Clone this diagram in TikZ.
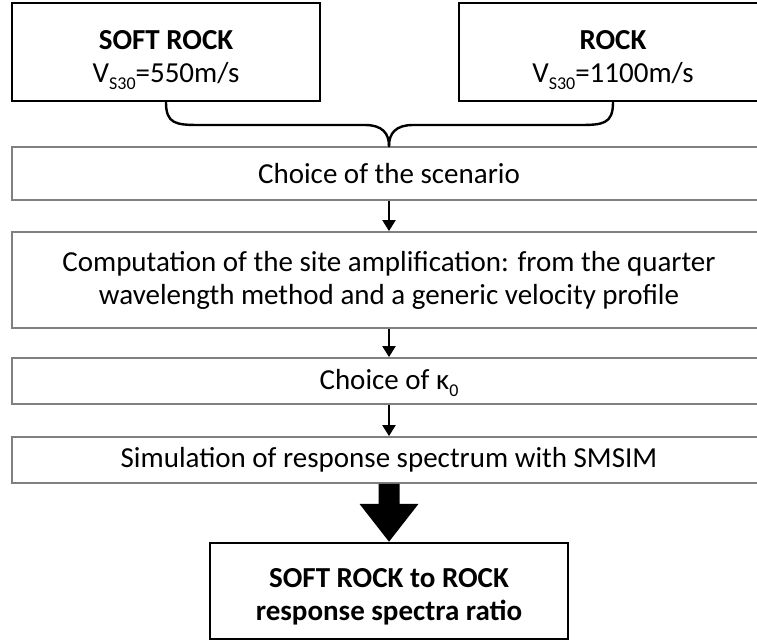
\documentclass[tikz,border=0pt]{standalone}
\usepackage{fontspec}
\setmainfont{Carlito}
\usetikzlibrary{arrows.meta,calc}
\definecolor{boxgray}{RGB}{128,128,128}
\newcommand\subtxt[1]{\raisebox{-7pt}{\fontsize{18}{18}\selectfont #1}}
\begin{document}
\begin{tikzpicture}[x=1pt,y=-1pt,
  every node/.style={font=\fontsize{29}{33}\selectfont, align=center, inner sep=0pt},
  topbox/.style={draw=black, line width=2.6pt, minimum width=308pt, minimum height=98pt},
  flowbox/.style={draw=boxgray, line width=1.8pt, minimum width=754pt},
  resultbox/.style={draw=black, line width=2.6pt, minimum width=358pt, minimum height=96pt},
  flowarrow/.style={line width=2pt, -{Triangle[width=13pt,length=11pt]}},
  bracepath/.style={line width=2.4pt, line cap=round},
  bigarrow/.style={fill=black}]
\path[use as bounding box, clip] (0,0) rectangle (757,643);

\node[topbox] (soft) at (166,52) {\rule{0pt}{36pt}\textbf{SOFT ROCK}\\V\subtxt{S30}=550m/s};
\node[topbox] (rock) at (613,52) {\rule{0pt}{36pt}\textbf{ROCK}\\V\subtxt{S30}=1100m/s};

\node[flowbox, minimum height=53pt] (scen) at (389,173.5) {Choice of the scenario};
\node[flowbox, minimum height=96pt] (comp) at (389,280) {Computation of the site amplification: from the quarter\\wavelength method and a generic velocity profile};
\node[flowbox, minimum height=46pt] (kappa) at (389,381) {\rule{0pt}{24pt}Choice of κ\subtxt{0}};
\node[flowbox, minimum height=46pt] (sim) at (389,460) {Simulation of response spectrum with SMSIM};
\node[resultbox] (ratio) at (389,591) {\rule{0pt}{31pt}\textbf{SOFT ROCK to ROCK}\\\textbf{response spectra ratio}};

\draw[bracepath] (soft.south) .. controls (166,124) and (176,125) .. (200,125) -- (365,125) .. controls (382,125) and (389,133) .. (scen.north);
\draw[bracepath] (rock.south) .. controls (613,124) and (603,125) .. (579,125) -- (413,125) .. controls (396,125) and (389,133) .. (scen.north);

\draw[flowarrow] (scen.south) -- (comp.north);
\draw[flowarrow] (comp.south) -- (kappa.north);
\draw[flowarrow] (kappa.south) -- (sim.north);

\fill[bigarrow] ($(sim.south)+(-10.5,0)$) -- ($(sim.south)+(10.5,0)$) -- ($(sim.south)+(10.5,20)$) -- ($(sim.south)+(29.5,20)$) -- (ratio.north) -- ($(sim.south)+(-29.5,20)$) -- ($(sim.south)+(-10.5,20)$) -- cycle;
\end{tikzpicture}
\end{document}
